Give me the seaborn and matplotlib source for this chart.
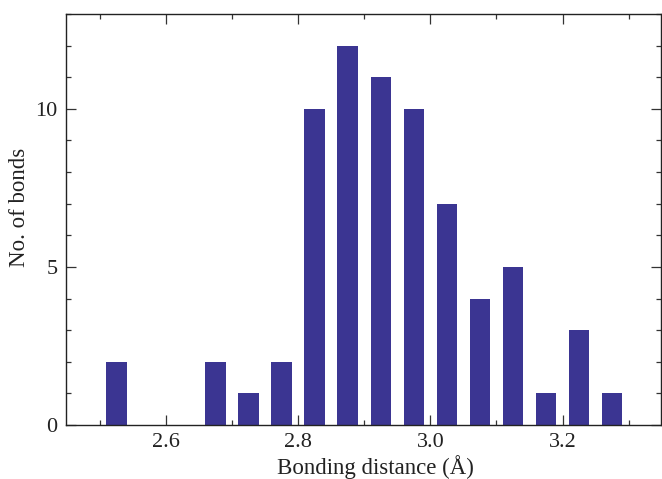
import numpy as np
import pandas as pd
import matplotlib
matplotlib.use("Agg")
import matplotlib.pyplot as plt
from matplotlib.ticker import MultipleLocator
import seaborn as sns

# bin centres (Angstrom) and bond counts
distance = [2.525, 2.675, 2.725, 2.775, 2.825, 2.875, 2.925,
            2.975, 3.025, 3.075, 3.125, 3.175, 3.225, 3.275]
bonds = [2, 2, 1, 2, 10, 12, 11, 10, 7, 4, 5, 1, 3, 1]

sns.set_theme(style="ticks")
plt.rcParams['font.family'] = ['Liberation Serif', 'DejaVu Serif']

df = pd.DataFrame({"distance": distance, "bonds": bonds})

fig = plt.figure(figsize=(6.62, 4.79), dpi=100)
ax = fig.add_axes([0.0997, 0.1127, 0.899, 0.858])

sns.barplot(data=df, x="distance", y="bonds", native_scale=True,
            width=0.62, color="#3b3592", saturation=1, linewidth=0, ax=ax)

ax.set_xlim(2.449, 3.349)
ax.set_ylim(0, 13)
ax.xaxis.set_major_locator(MultipleLocator(0.2))
ax.xaxis.set_minor_locator(MultipleLocator(0.1))
ax.yaxis.set_major_locator(MultipleLocator(5))
ax.yaxis.set_minor_locator(MultipleLocator(1))
ax.xaxis.set_major_formatter(matplotlib.ticker.FormatStrFormatter('%.1f'))

ax.tick_params(which="both", direction="in", top=True, right=True,
               colors="#333333", labelcolor="#222222", labelsize=16, width=0.9)
ax.tick_params(which="major", length=7, pad=6)
ax.tick_params(which="minor", length=3.5)
for s in ax.spines.values():
    s.set_color("#222222")
    s.set_linewidth(1.0)

ax.set_xlabel("Bonding distance (Å)", fontsize=16.5, color="#222222")
ax.set_ylabel("No. of bonds", fontsize=16.5, color="#222222")
ax.xaxis.set_label_coords(0.52, -0.074)
ax.yaxis.set_label_coords(-0.06, 0.53)

fig.savefig("out.png", dpi=100)
